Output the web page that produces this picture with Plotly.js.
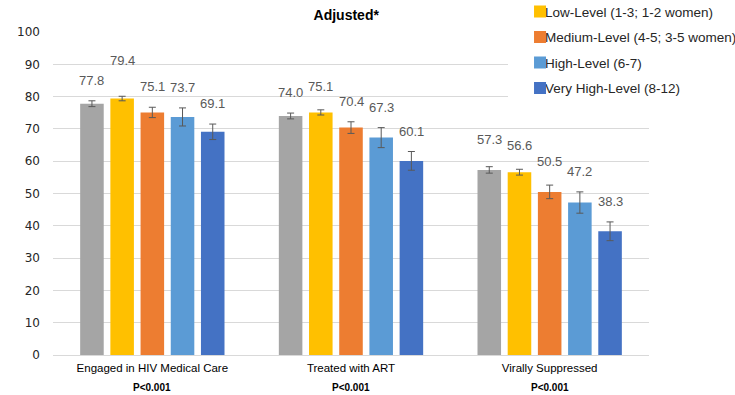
<!DOCTYPE html>
<html>
<head>
<meta charset="utf-8">
<script src="https://cdn.plot.ly/plotly-3.0.1.min.js"></script>
<style>
  html, body { margin: 0; padding: 0; background: #fff; }
  #chart { width: 735px; height: 395px; }
</style>
</head>
<body>
<div id="chart"></div>
<script>
// Care-continuum outcomes by syndemic level (adjusted percentages)
const categories = ['Engaged in HIV Medical Care', 'Treated with ART', 'Virally Suppressed'];
const pValues = ['P<0.001', 'P<0.001', 'P<0.001'];

const seriesNames = [
  'None (0)',
  'Low-Level (1-3; 1-2 women)',
  'Medium-Level (4-5; 3-5 women)',
  'High-Level (6-7)',
  'Very High-Level (8-12)'
];
const seriesColors = ['#A5A5A5', '#FFC000', '#ED7D31', '#5B9BD5', '#4472C4'];

const noneVals     = [77.8, 74.0, 57.3];
const lowVals      = [79.4, 75.1, 56.6];
const mediumVals   = [75.1, 70.4, 50.5];
const highVals     = [73.7, 67.3, 47.2];
const veryHighVals = [69.1, 60.1, 38.3];

const noneErr     = [0.9, 0.9, 1.0];
const lowErr      = [0.7, 0.8, 0.9];
const mediumErr   = [1.6, 1.8, 2.1];
const highErr     = [2.8, 3.1, 3.3];
const veryHighErr = [2.4, 2.9, 2.9];

const seriesVals = [noneVals, lowVals, mediumVals, highVals, veryHighVals];
const seriesErrs = [noneErr, lowErr, mediumErr, highErr, veryHighErr];

const BARGAP = 0.24;
const nSeries = seriesVals.length;
const SANS = 'Liberation Sans, Arial, sans-serif';

const traces = seriesVals.map((vals, i) => ({
  type: 'bar',
  name: seriesNames[i],
  x: categories,
  y: vals,
  marker: { color: seriesColors[i], line: { width: 0 } },
  error_y: {
    type: 'data', array: seriesErrs[i], visible: true,
    color: '#595959', thickness: 1, width: 3.5
  },
  showlegend: i > 0,
  legendgroup: 'g' + i,
  hoverinfo: 'skip'
}));

// Extra lift (px) for a few value labels so neighbours don't collide
const labelLift = { '1-0': 15, '1-1': 3, '0-2': 7, '1-2': 3, '2-2': 3 };

const annotations = [];
seriesVals.forEach((vals, i) => {
  vals.forEach((v, c) => {
    const offset = (i - (nSeries - 1) / 2) * (1 - BARGAP) / nSeries;
    annotations.push({
      x: c + offset, xref: 'x',
      y: v + seriesErrs[i][c], yref: 'y',
      text: v.toFixed(1),
      showarrow: false,
      yanchor: 'bottom',
      yshift: 11 + (labelLift[i + '-' + c] || 0),
      font: { family: SANS, size: 13, color: '#595959' }
    });
  });
});
pValues.forEach((p, c) => {
  annotations.push({
    x: c, xref: 'x', y: 0, yref: 'paper',
    text: '<b>' + p + '</b>',
    showarrow: false, yanchor: 'middle', yshift: -32,
    font: { family: SANS, size: 10, color: '#000' }
  });
});

const layout = {
  width: 735, height: 395,
  margin: { l: 53, r: 86, t: 32, b: 40, autoexpand: false },
  paper_bgcolor: '#fff', plot_bgcolor: '#fff',
  title: {
    text: '<b>Adjusted*</b>',
    x: 0.492, xref: 'paper', xanchor: 'center',
    y: 0.962, yref: 'container', yanchor: 'middle',
    font: { family: SANS, size: 14, color: '#000' }
  },
  barmode: 'group',
  bargap: BARGAP,
  bargroupgap: 0.22,
  xaxis: {
    type: 'category',
    showgrid: false, zeroline: false,
    showline: true, linecolor: '#D9D9D9', linewidth: 1,
    ticks: '',
    ticklabelstandoff: 2,
    tickfont: { family: SANS, size: 11.5, color: '#000' }
  },
  yaxis: {
    range: [0, 100], dtick: 10,
    showgrid: true, gridcolor: '#D9D9D9', gridwidth: 1,
    zeroline: false, showline: false, ticks: '',
    ticklabelstandoff: 12,
    tickfont: { family: 'DejaVu Sans, sans-serif', size: 12, color: '#262626' }
  },
  legend: {
    x: 0.7836, xanchor: 'left',
    y: 1.111, yanchor: 'top',
    tracegroupgap: 5,
    itemwidth: 30,
    bgcolor: '#ffffff',
    borderwidth: 0,
    font: { family: SANS, size: 13.5, color: '#262626' }
  },
  annotations: annotations
};

Plotly.newPlot('chart', traces, layout, { staticPlot: true, displayModeBar: false })
  .then(() => {
    // tighten the gap between legend swatches and their labels
    document.querySelectorAll('#chart .legendtext').forEach(t => t.setAttribute('x', 25));
    // widen the legend's white backing a little to the left
    document.querySelectorAll('#chart .legend rect.bg').forEach(r => {
      const x = parseFloat(r.getAttribute('x') || 0);
      const w = parseFloat(r.getAttribute('width') || 0);
      r.setAttribute('x', x - 12);
      r.setAttribute('width', w + 12);
    });
  });
</script>
</body>
</html>
